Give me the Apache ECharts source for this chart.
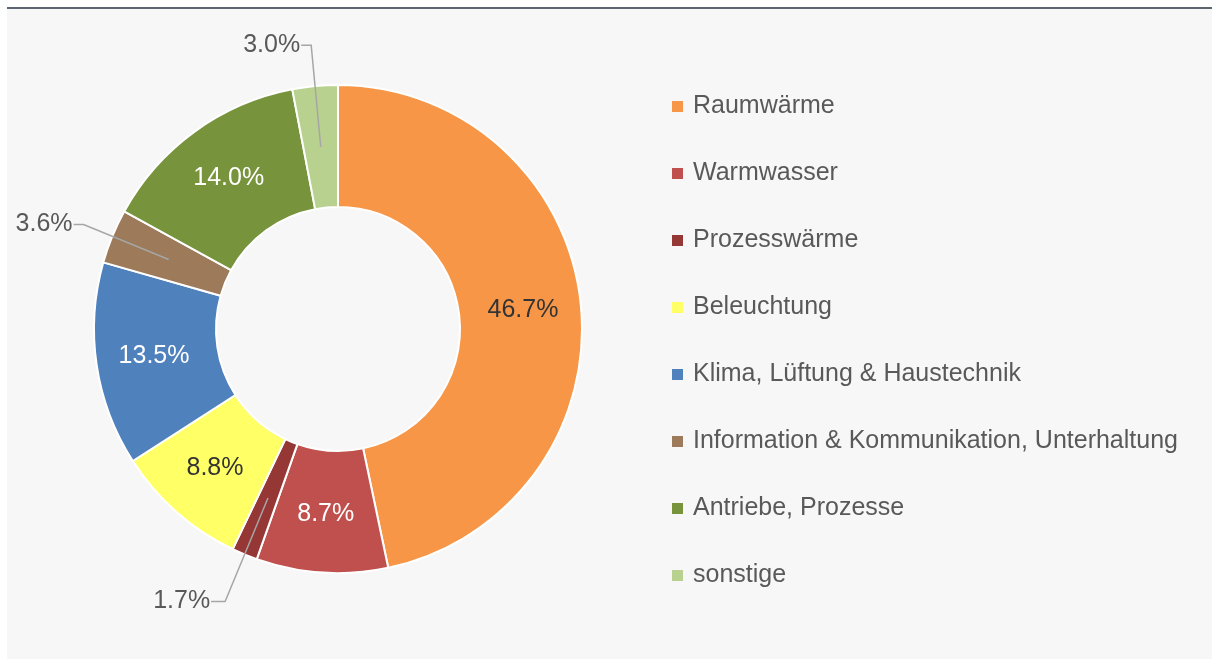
<!DOCTYPE html>
<html>
<head>
<meta charset="utf-8">
<script src="https://cdn.jsdelivr.net/npm/echarts@6/dist/echarts.min.js"></script>
<style>
html,body{margin:0;padding:0;background:#ffffff;width:1212px;height:659px;overflow:hidden;}
#panel{position:absolute;left:7px;top:7px;width:1205px;height:652px;background:#f7f7f7;border-top:2px solid #5d6670;box-sizing:border-box;}
#chart{position:absolute;left:0;top:0;width:1212px;height:659px;}
</style>
</head>
<body>
<div id="panel"></div>
<div id="chart"></div>
<script>
const categories = ["Raumwärme","Warmwasser","Prozesswärme","Beleuchtung","Klima, Lüftung & Haustechnik","Information & Kommunikation, Unterhaltung","Antriebe, Prozesse","sonstige"];
const values = [46.7, 8.7, 1.7, 8.8, 13.5, 3.6, 14.0, 3.0];
const colors = ["#f79646","#c0504d","#953735","#ffff66","#4f81bd","#9c7a5a","#77933c","#b9d18e"];
const insideLabelColors = ["#333333","#ffffff",null,"#333333","#ffffff",null,"#ffffff",null];
const outsideLabelIdx = [2,5,7];
const leader = {2:[112,14],5:[92,10],7:[102,10]};

const FONT = "Liberation Sans";
const FS = 25;
const chart = echarts.init(document.getElementById('chart'), null, {renderer:'canvas'});

const mainData = categories.map((c,i)=>({
  name:c, value:values[i],
  itemStyle:{color:colors[i]},
  label: insideLabelColors[i] ? {show:true, color:insideLabelColors[i]} : {show:false}
}));
const overlayData = categories.map((c,i)=>{
  const out = outsideLabelIdx.includes(i);
  return {
    name:c, value:values[i],
    itemStyle:{color:'rgba(0,0,0,0)', borderWidth:0},
    label:{show:out},
    labelLine: out ? {show:true, length:leader[i][0], length2:leader[i][1]} : {show:false}
  };
});

chart.setOption({
  animation:false,
  backgroundColor:'transparent',
  legend:{
    orient:'vertical', left:672, top:94, padding:0,
    data:categories,
    icon:'rect', itemWidth:11, itemHeight:11, itemGap:42,
    itemStyle:{borderWidth:0},
    textStyle:{fontFamily:FONT, fontSize:FS, lineHeight:25, color:'#595959', padding:[0,0,0,5]},
    selectedMode:false
  },
  series:[
    {
      type:'pie', center:[338,329], radius:[122,244], startAngle:90, clockwise:true,
      silent:true, avoidLabelOverlap:false,
      itemStyle:{borderColor:'#ffffff', borderWidth:2},
      label:{position:'inside', formatter:p=>p.value.toFixed(1)+'%', fontFamily:FONT, fontSize:FS, padding:[4,0,0,0]},
      labelLine:{show:false},
      data:mainData
    },
    {
      type:'pie', center:[338,329], radius:[0,183], startAngle:90, clockwise:true,
      silent:true, avoidLabelOverlap:false, z:3,
      label:{position:'outside', formatter:p=>p.value.toFixed(1)+'%', fontFamily:FONT, fontSize:FS, color:'#595959', distanceToLabelLine:1},
      labelLine:{lineStyle:{color:'#a6a6a6', width:1.5}, smooth:false},
      data:overlayData
    }
  ]
});
</script>
</body>
</html>
